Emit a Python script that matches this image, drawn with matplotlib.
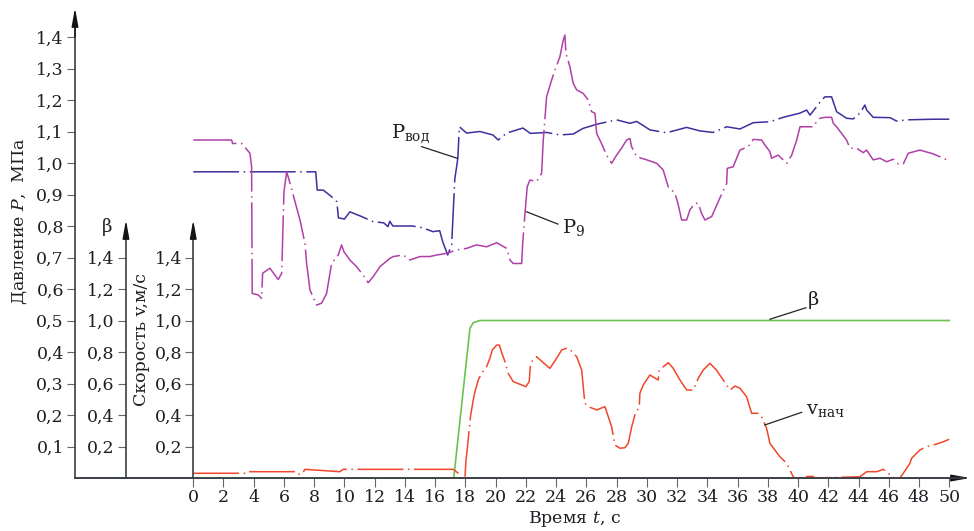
import numpy as np
import matplotlib.pyplot as plt

# время, с / давление воды P_вод, МПа
t_pvod = [0, 8.1, 8.2, 8.6, 9.15, 9.5, 9.6, 10.0, 10.36, 11.14,
          11.88, 12.6, 12.88, 13.0, 13.2, 14.5, 15.2, 15.85, 16.3, 16.5,
          16.83, 17.09, 17.3, 17.42, 17.5, 17.6, 18.08, 18.96, 19.82, 20.17,
          20.73, 21.8, 22.3, 23.37, 24.25, 25.13, 25.79, 26.68, 28.0, 28.88,
          29.33, 30.21, 31.31, 32.63, 33.5, 34.37, 35.28, 36.16, 37.04, 38.14,
          39.02, 40.1, 40.57, 40.79, 41.23, 41.56, 41.78, 42.22, 42.55, 43.21,
          43.65, 44.09, 44.42, 44.54, 44.97, 46.08, 46.52, 47.18, 48.94, 50]
p_vod = [0.972, 0.972, 0.914, 0.914, 0.893, 0.877, 0.826, 0.822, 0.845, 0.83,
         0.814, 0.81, 0.798, 0.815, 0.8, 0.8, 0.794, 0.782, 0.785, 0.75,
         0.708, 0.74, 0.95, 0.988, 1.016, 1.115, 1.095, 1.1, 1.089, 1.073,
         1.095, 1.111, 1.094, 1.097, 1.089, 1.092, 1.11, 1.123, 1.137, 1.126,
         1.132, 1.105, 1.096, 1.113, 1.102, 1.097, 1.115, 1.108, 1.128, 1.131,
         1.145, 1.158, 1.168, 1.152, 1.179, 1.2, 1.21, 1.21, 1.163, 1.142,
         1.14, 1.158, 1.184, 1.168, 1.145, 1.144, 1.133, 1.137, 1.139, 1.139]

# давление P_9, МПа
t_p9 = [0, 2.54, 2.6, 3.2, 3.75, 3.86, 3.9, 4.3, 4.52, 4.59,
        5.07, 5.62, 5.85, 6.0, 6.18, 6.4, 6.73, 7.06, 7.39, 7.5,
        7.72, 8.16, 8.49, 8.82, 9.15, 9.59, 9.81, 9.97, 10.36, 10.8,
        11.24, 11.57, 11.9, 12.35, 13.0, 13.23, 13.89, 14.33, 14.99, 15.65,
        16.1, 16.76, 17.42, 18.08, 18.74, 19.4, 20.07, 20.73, 20.95, 21.16,
        21.72, 21.79, 21.94, 22.09, 22.27, 22.71, 23.04, 23.15, 23.37, 23.7,
        23.92, 24.25, 24.47, 24.58, 24.65, 24.91, 25.13, 25.36, 25.79, 26.12,
        26.35, 26.57, 26.68, 27.0, 27.34, 27.67, 28.0, 28.33, 28.66, 28.88,
        28.99, 29.33, 29.99, 30.65, 31.08, 31.41, 31.86, 32.08, 32.3, 32.63,
        32.85, 33.18, 33.4, 33.62, 33.84, 34.29, 34.84, 35.28, 35.32, 35.71,
        36.16, 36.71, 37.04, 37.59, 37.81, 38.14, 38.25, 38.69, 39.25, 39.58,
        39.91, 40.13, 41.0, 41.23, 41.45, 41.78, 42.22, 42.33, 42.55, 43.21,
        43.43, 43.87, 44.31, 44.54, 44.97, 45.42, 45.86, 46.3, 46.63, 46.96,
        47.29, 48.06, 48.94, 50]
p_9 = [1.073, 1.073, 1.062, 1.062, 1.031, 0.988, 0.586, 0.581, 0.57, 0.65,
       0.666, 0.63, 0.65, 0.909, 0.972, 0.936, 0.877, 0.819, 0.745, 0.681,
       0.597, 0.549, 0.555, 0.586, 0.681, 0.708, 0.74, 0.718, 0.692, 0.671,
       0.644, 0.62, 0.639, 0.671, 0.697, 0.703, 0.708, 0.692, 0.703, 0.703,
       0.708, 0.713, 0.724, 0.729, 0.74, 0.734, 0.747, 0.729, 0.692, 0.681,
       0.681, 0.745, 0.84, 0.925, 0.946, 0.941, 0.967, 1.073, 1.21, 1.263,
       1.295, 1.337, 1.39, 1.406, 1.348, 1.306, 1.253, 1.232, 1.221, 1.2,
       1.163, 1.158, 1.094, 1.062, 1.025, 0.999, 1.025, 1.047, 1.073, 1.078,
       1.052, 1.02, 1.01, 0.999, 0.978, 0.925, 0.904, 0.867, 0.819, 0.819,
       0.851, 0.872, 0.872, 0.84, 0.819, 0.83, 0.89, 0.935, 0.983, 0.988,
       1.041, 1.052, 1.075, 1.073, 1.057, 1.036, 1.015, 1.025, 0.999, 1.025,
       1.073, 1.115, 1.115, 1.131, 1.142, 1.145, 1.145, 1.126, 1.115, 1.073,
       1.047, 1.047, 1.033, 1.041, 1.01, 1.015, 1.004, 1.012, 0.997, 0.997,
       1.031, 1.041, 1.029, 1.007]

# степень открытия beta
t_beta = [0, 17.23, 18.3, 18.52, 18.96, 50]
beta = [0, 0, 0.95, 0.986, 1.0, 1.0]

# начальная скорость v_нач, м/с
t_v = [0, 3.5, 3.6, 6.73, 6.85, 7.2, 7.39, 9.7, 9.92, 17.2,
       17.53, 17.68, 17.97, 18.04, 18.12, 18.25, 18.35, 18.52, 18.63, 18.85,
       19.07, 19.4, 19.62, 19.78, 20.07, 20.25, 20.4, 20.62, 20.83, 21.16,
       21.61, 22.0, 22.22, 22.31, 22.71, 23.15, 23.59, 24.03, 24.37, 24.65,
       24.91, 25.36, 25.69, 25.9, 26.24, 26.68, 27.23, 27.45, 27.67, 27.89,
       28.22, 28.55, 28.77, 29.0, 29.21, 29.5, 29.54, 29.76, 30.2, 30.75,
       30.82, 31.42, 31.75, 32.19, 32.63, 33.07, 33.4, 33.73, 34.17, 34.6,
       35.05, 35.5, 35.83, 36.16, 36.6, 36.93, 37.37, 37.59, 37.92, 38.14,
       38.8, 39.25, 39.68, 39.8, 40.5, 40.6, 41.0, 41.1, 44.09, 44.54,
       45.2, 45.64, 45.97, 46.19, 46.41, 46.74, 46.96, 47.4, 47.51, 48.06,
       48.5, 49.17, 49.6, 50]
v = [0.03, 0.03, 0.04, 0.04, 0.025, 0.025, 0.055, 0.04, 0.055, 0.055,
     0.03, 0, 0, 0.114, 0.178, 0.305, 0.4, 0.495, 0.548, 0.622,
     0.665, 0.707, 0.76, 0.813, 0.844, 0.844, 0.796, 0.738, 0.665, 0.612,
     0.595, 0.58, 0.612, 0.732, 0.77, 0.732, 0.696, 0.76, 0.813, 0.823,
     0.817, 0.77, 0.686, 0.474, 0.449, 0.432, 0.453, 0.389, 0.326, 0.21,
     0.189, 0.192, 0.22, 0.326, 0.4, 0.453, 0.538, 0.59, 0.654, 0.622,
     0.686, 0.732, 0.696, 0.622, 0.559, 0.559, 0.633, 0.686, 0.728, 0.686,
     0.622, 0.559, 0.584, 0.57, 0.516, 0.411, 0.411, 0.389, 0.316, 0.22,
     0.135, 0.093, 0.008, 0, 0, 0.01, 0.01, 0, 0.008, 0.04,
     0.04, 0.055, 0.03, 0.008, 0, 0, 0.03, 0.093, 0.125, 0.178,
     0.199, 0.216, 0.23, 0.246]

x_ticks = list(range(0, 51, 2))
p_ticks = [0.1, 0.2, 0.3, 0.4, 0.5, 0.6, 0.7, 0.8, 0.9, 1.0, 1.1, 1.2, 1.3, 1.4]
v_ticks = [0.2, 0.4, 0.6, 0.8, 1.0, 1.2, 1.4]

plt.rcParams['font.family'] = ['DejaVu Serif']
plt.rcParams['mathtext.fontset'] = 'dejavuserif'

AXC = '#3a3e46'
TXT = '#1e1e24'
dash = (0, (30, 3, 1, 3))


def fmt(vals):
    return [f"{x:.1f}".replace('.', ',') for x in vals]


def arrow(a, tip, base):
    a.annotate('', xy=tip, xytext=base, annotation_clip=False,
               arrowprops=dict(arrowstyle='-|>,head_length=1.1,head_width=0.2',
                               color='#151515', lw=1.0, shrinkA=0, shrinkB=0))


fig = plt.figure(figsize=(9.74, 5.31), dpi=100)
ax = fig.add_axes([75 / 974, 53 / 531, 898 / 974, 472.5 / 531])
x0 = -7.82
ax.set_xlim(x0, x0 + 898 / 15.12)
ax.set_ylim(0, 1.5)
ax.patch.set_visible(False)

ax.spines['top'].set_visible(False)
ax.spines['right'].set_visible(False)
ax.spines['left'].set_bounds(0, 1.45)
ax.spines['bottom'].set_bounds(x0, 51.0)
for s in ('left', 'bottom'):
    ax.spines[s].set_color(AXC)
    ax.spines[s].set_linewidth(1.2)

ax.set_xticks(x_ticks)
ax.set_xticklabels([str(x) for x in x_ticks])
ax.set_yticks(p_ticks)
ax.set_yticklabels(fmt(p_ticks))
ax.tick_params(axis='both', direction='out', color='#666', width=0.8,
               labelsize=12.5, labelcolor=TXT)
ax.tick_params(axis='y', length=6, pad=2)
ax.tick_params(axis='x', length=6.5, pad=1.5)

ax.plot(t_pvod, p_vod, color='#3e2f9c', lw=1.1, ls=dash)
ax.plot(t_p9, p_9, color='#b13fa8', lw=1.1, ls=dash)

# ось beta
ax_b = ax.twinx()
ax_b.set_ylim(0, 3.0)
# ось скорости
ax_v = ax.twinx()
ax_v.set_ylim(0, 3.0)
for a, pos in ((ax_b, -4.45), (ax_v, 0.0)):
    for s in a.spines.values():
        s.set_visible(False)
    a.spines['left'].set_visible(True)
    a.spines['left'].set_position(('data', pos))
    a.spines['left'].set_bounds(0, 1.58)
    a.spines['left'].set_color(AXC)
    a.spines['left'].set_linewidth(1.2)
    a.yaxis.tick_left()
    a.set_yticks(v_ticks)
    a.set_yticklabels(fmt(v_ticks))
    a.tick_params(axis='y', direction='out', length=6, pad=2, color='#666',
                  width=0.8, labelsize=12.5, labelcolor=TXT)

ax_b.plot(t_beta, beta, color='#6cc24e', lw=1.2)
ax_v.plot(t_v, v, color='#f0472a', lw=1.1, ls=dash)
ax_v.plot([x0, 51.0], [0, 0], color=AXC, lw=1.2, zorder=5, clip_on=False)

arrow(ax, (x0, 1.492), (x0, 1.40))
arrow(ax_b, (-4.45, 1.638), (-4.45, 1.55))
arrow(ax_v, (0.0, 1.638), (0.0, 1.55))
arrow(ax, (51.37, 0), (50.6, 0))

# подписи осей
fig.text(20 / 974, 1 - 221 / 531, 'Давление $P$,  МПа', rotation=90,
         ha='center', va='center', fontsize=12.5, color=TXT)
fig.text(107 / 974, 1 - 227 / 531, 'β', ha='center', va='center',
         fontsize=13, color=TXT)
fig.text(142 / 974, 1 - 340 / 531, 'Скорость v,м/с', rotation=90,
         ha='center', va='center', fontsize=12.5, color=TXT)
fig.text(575 / 974, 1 - 519 / 531, 'Время $t$, с', ha='center', va='center',
         fontsize=12.5, color=TXT)

# выноски
lead = dict(color='#222', lw=0.9)
ax.plot([15.1, 17.46], [1.052, 1.015], **lead)
ax.text(13.1, 1.092, r'P$_{\mathregular{вод}}$', ha='left', va='center',
        fontsize=14, color=TXT)
ax.plot([22.05, 24.12], [0.845, 0.806], **lead)
ax.text(24.36, 0.794, r'P$_9$', ha='left', va='center', fontsize=14, color=TXT)
ax_v.plot([38.14, 40.52], [1.008, 1.081], **lead)
ax_v.text(41.04, 1.13, 'β', ha='center', va='center', fontsize=14, color=TXT)
ax_v.plot([37.81, 40.24], [0.337, 0.417], **lead)
ax_v.text(40.52, 0.432, r'v$_{\mathregular{нач}}$', ha='left', va='center',
          fontsize=14, color=TXT)

fig.savefig('out.png', dpi=100)
